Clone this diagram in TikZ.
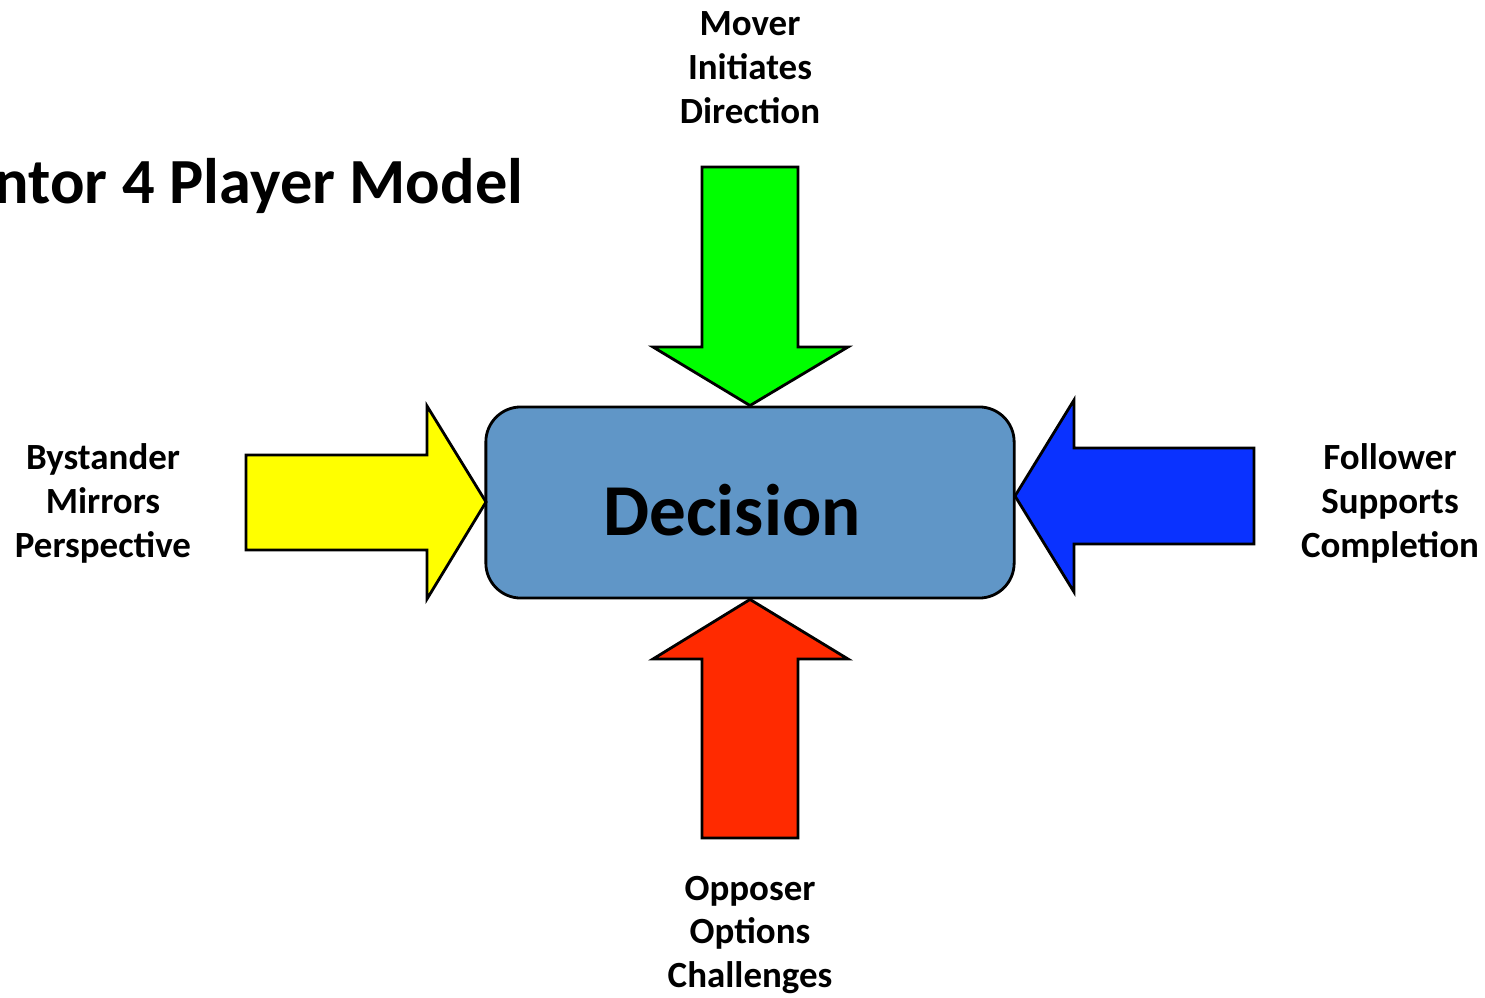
\documentclass[tikz,border=0pt]{standalone}
\usepackage{fontspec}
\setmainfont{Carlito}
\definecolor{boxblue}{RGB}{96,150,199}
\definecolor{movergreen}{RGB}{0,255,0}
\definecolor{bystanderyellow}{RGB}{255,255,0}
\definecolor{followerblue}{RGB}{10,50,255}
\definecolor{opposerred}{RGB}{255,42,0}
\tikzset{
    blockarrow/.style={draw=black, line width=0.8pt, line join=miter},
    playerlabel/.style={align=center, font=\fontsize{10.5}{12.5}\selectfont\bfseries, inner sep=0pt}
}

\begin{document}
\begin{tikzpicture}[x=0.01cm, y=-0.01cm]
        \useasboundingbox (0,0) rectangle (1485,997);

        \node[anchor=base east, inner sep=0pt, font=\fontsize{18.3}{22}\selectfont\bfseries] (title) at (524,203) {ntor 4 Player Model};

        \node[draw=black, line width=0.8pt, fill=boxblue, rounded corners=0.35cm,
              minimum width=5.28cm, minimum height=1.91cm, inner sep=0pt] (box) at (750,502.5) {};
        \node[font=\fontsize{20.8}{24}\selectfont\bfseries, inner sep=0pt] (decision) at (732,510) {Decision};

        \begin{scope}[every path/.style={blockarrow}]
            % mover, from the top
            \filldraw[fill=movergreen] (702,167) -- (798,167) -- (798,347) -- (848,347)
                -- (box.north) -- (653,347) -- (702,347) -- cycle;
            % opposer, from the bottom
            \filldraw[fill=opposerred] (702,838) -- (798,838) -- (798,659) -- (848,659)
                -- (box.south) -- (653,659) -- (702,659) -- cycle;
            % bystander, from the left
            \filldraw[fill=bystanderyellow] (246,455) -- (427,455) -- (427,406) -- (486,502)
                -- (427,599) -- (427,550) -- (246,550) -- cycle;
            % follower, from the right
            \filldraw[fill=followerblue] (1254,448) -- (1074,448) -- (1074,400) -- (1015,496)
                -- (1074,592) -- (1074,544) -- (1254,544) -- cycle;
        \end{scope}

        \begin{scope}[every node/.style={playerlabel}]
            \node (mover) at (750,68) {Mover\\Initiates\\Direction};
            \node (bystander) at (103,503) {Bystander\\Mirrors\\Perspective};
            \node (follower) at (1390,503) {Follower\\Supports\\Completion};
            \node (opposer) at (750,935) {Opposer\\Options\\Challenges};
        \end{scope}
    \end{tikzpicture}
\end{document}
